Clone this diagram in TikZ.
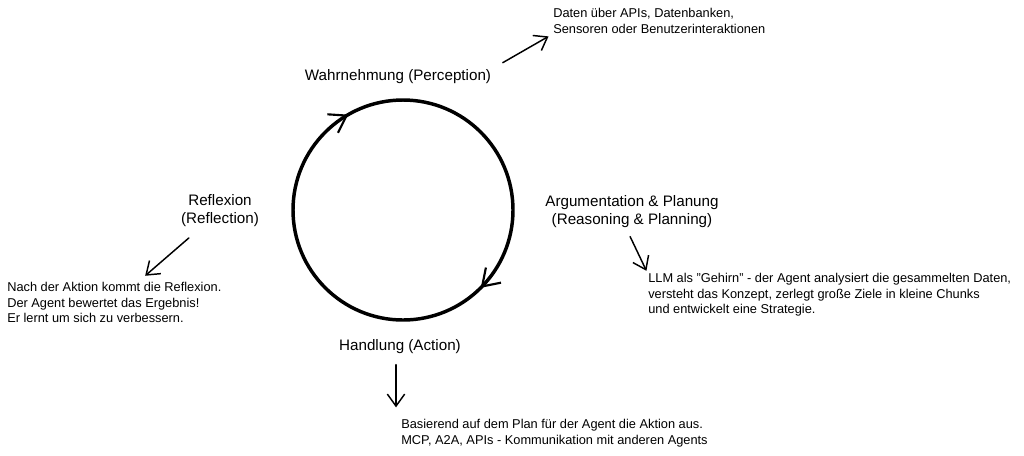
\documentclass[tikz,border=0pt]{standalone}
\usepackage{fontspec}
\setmainfont{Liberation Sans}
\usepackage{tikz}
\usetikzlibrary{decorations.markings,arrows.meta,calc}
\usetikzlibrary{positioning}

\begin{document}
\begin{tikzpicture}[x=0.75pt,y=0.75pt,yscale=-1,xscale=1,
  lbl/.style={inner sep=0.75pt,align=center,font=\fontsize{11.4}{13.5}\selectfont},
  note/.style={anchor=north west,inner sep=0.75pt,align=left,font=\fontsize{9.6}{11.6}\selectfont},
  arr/.style={line width=1.1pt,line cap=round,-{Straight Barb[length=9pt,width=13pt,line width=1.1pt]}}]
\useasboundingbox (0,0) rectangle (1024,455);

%Shape: Circle [cycle]
\coordinate (c) at (403,210);
\draw [line width=2.6pt, postaction={decorate}, decoration={markings,
    mark=at position 0.125 with {\arrow{Straight Barb[length=12pt,width=16pt,line width=1.6pt]}},
    mark=at position 0.667 with {\arrow{Straight Barb[length=12pt,width=16pt,line width=1.6pt]}}}]
  (c) circle (110);

% Text Node
\node [lbl] (wahr) at (398,77) {Wahrnehmung (Perception)};
% Text Node
\node [note] (daten) at (552,7) {Daten über APIs, Datenbanken,\\Sensoren oder Benutzerinteraktionen};
% Text Node
\node [lbl] (arg) at (632,212) {Argumentation \& Planung\\(Reasoning \& Planning)};
% Text Node
\node [note] (llm) at (647,272) {LLM als "Gehirn" - der Agent analysiert die gesammelten Daten,\\versteht das Konzept, zerlegt große Ziele in kleine Chunks\\und entwickelt eine Strategie.};
% Text Node
\node [lbl] (hand) at (400,347) {Handlung (Action)};
% Text Node
\node [note] (bas) at (400,418) {Basierend auf dem Plan für der Agent die Aktion aus.\\MCP, A2A, APIs - Kommunikation mit anderen Agents};
% Text Node
\node [lbl] (refl) at (220,211) {Reflexion\\(Reflection)};
% Text Node
\node [note] (nach) at (6,281) {Nach der Aktion kommt die Reflexion.\\Der Agent bewertet das Ergebnis!\\Er lernt um sich zu verbessern.};

%Straight Lines
\draw [arr, shorten <=9pt, shorten >=3pt] (wahr.north east) -- (daten.south west);
\draw [arr, shorten <=6pt, shorten >=1pt] ([xshift=-4pt]arg.south) -- (llm.north west);
\draw [arr, shorten <=7pt, shorten >=8pt] ([xshift=-3pt]hand.south) -- ([xshift=-3pt]hand.south |- bas.north);
\draw [arr, shorten <=11pt, shorten >=6pt] (refl) -- (nach);

\end{tikzpicture}
\end{document}
